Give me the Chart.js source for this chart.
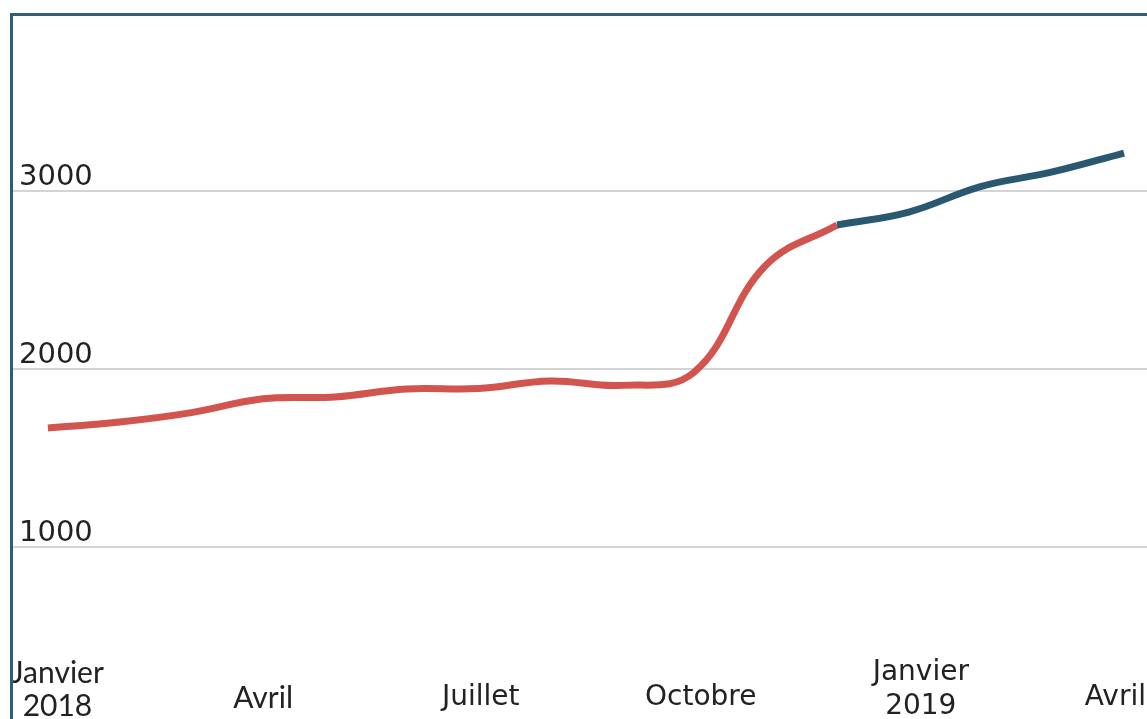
<!DOCTYPE html>
<html><head><meta charset="utf-8">
<script src="https://cdn.jsdelivr.net/npm/chart.js@4.4.1/dist/chart.umd.min.js"></script>
<style>
html,body{margin:0;padding:0;background:#fff;overflow:hidden}
#wrap{position:relative;width:1147px;height:719px;overflow:hidden}
#frame{position:absolute;left:10px;top:13px;width:1200px;height:800px;border-left:3px solid #2d5f77;border-top:3px solid #2d5f77;pointer-events:none}
canvas{position:absolute;left:0;top:0}
</style></head><body>
<div id="wrap"><canvas id="c" width="1147" height="719"></canvas><div id="frame"></div></div>
<script>
// Observation dates (roughly every 30 days)
const pointDates = ['2018-01-01','2018-01-31','2018-03-02','2018-04-01','2018-05-01','2018-05-31',
  '2018-06-30','2018-07-30','2018-08-29','2018-09-28','2018-10-28','2018-11-27',
  '2018-12-27','2019-01-26','2019-02-25','2019-03-27'];
// Red series: first 12 points
const redValues = [1669, 1702, 1755, 1833, 1843, 1888, 1890, 1933, 1908, 1980, 2580, 2809];
// Blue series: from the 12th point onward
const blueValues = [2809, 2882, 3025, 3107, 3213];
const blueStart = 11;
const tickDates = ['2018-01-01','2018-04-01','2018-07-01','2018-10-01','2019-01-01','2019-04-01'];
const tickLabels = [['Janvier','2018'], 'Avril', 'Juillet', 'Octobre', ['Janvier','2019'], 'Avril'];
const yTicks = [1000, 2000, 3000];

const DAY = 86400000, T0 = Date.UTC(2018, 0, 1);
const toDay = s => (Date.parse(s + 'T00:00:00Z') - T0) / DAY;
const redPts = redValues.map((v, i) => ({x: toDay(pointDates[i]), y: v}));
const bluePts = blueValues.map((v, i) => ({x: toDay(pointDates[i + blueStart]), y: v}));

const clampLabels = {
  id: 'clampLabels',
  beforeDraw(chart) {
    const sc = chart.scales.x;
    const items = sc.getLabelItems(chart.chartArea);
    const ctx = chart.ctx;
    items.forEach(it => {
      ctx.save();
      ctx.font = it.font.string;
      const lines = Array.isArray(it.label) ? it.label : [it.label];
      const w = Math.max(...lines.map(l => ctx.measureText(l).width));
      ctx.restore();
      const tr = it.options.translation;
      tr[0] = Math.min(Math.max(tr[0], 11 + w / 2), 1146 - w / 2);
    });
  }
};

new Chart(document.getElementById('c'), {
  type: 'line',
  data: {
    datasets: [
      {data: bluePts, borderColor: '#2a5870', order: 0},
      {data: redPts, borderColor: '#d1554e', order: 1}
    ]
  },
  options: {
    responsive: false,
    animation: false,
    layout: {padding: {left: 13, top: 13, right: 0, bottom: 0}},
    plugins: {legend: {display: false}, tooltip: {enabled: false}},
    elements: {
      point: {radius: 0},
      line: {tension: 0.4, borderWidth: 7, borderCapStyle: 'butt', fill: false}
    },
    scales: {
      x: {
        type: 'linear', min: -14.6, max: 459.6,
        grid: {display: false, drawTicks: false},
        border: {display: false},
        afterBuildTicks: s => { s.ticks = tickDates.map(d => ({value: toDay(d)})); },
        afterFit: s => { s.paddingLeft = 0; s.paddingRight = 0; s.height = 64; },
        ticks: {
          autoSkip: false, maxRotation: 0, minRotation: 0, padding: 18,
          crossAlign: 'far', color: '#222',
          font: c => ({
            family: c.index < 2 ? 'Lato' : 'DejaVu Sans',
            size: c.index < 2 ? 30 : 28,
            lineHeight: Array.isArray(tickLabels[c.index]) ? (c.index < 2 ? 1.12 : 1.2) : (c.index < 2 ? 1.38 : 1.5)
          }),
          callback: (v, i) => tickLabels[i]
        }
      },
      y: {
        min: 393.3, max: 4000,
        grid: {color: '#d4d4d4', lineWidth: 2, drawTicks: false},
        border: {display: false},
        afterBuildTicks: s => { s.ticks = yTicks.map(v => ({value: v})); },
        afterFit: s => { s.paddingTop = 0; s.paddingBottom = 0; s.width = 0; },
        ticks: {
          mirror: true, padding: 6, labelOffset: -14, color: '#222',
          font: {family: 'DejaVu Sans', size: 29},
          callback: v => String(v)
        }
      }
    }
  },
  plugins: [clampLabels]
});
</script>
</body></html>
